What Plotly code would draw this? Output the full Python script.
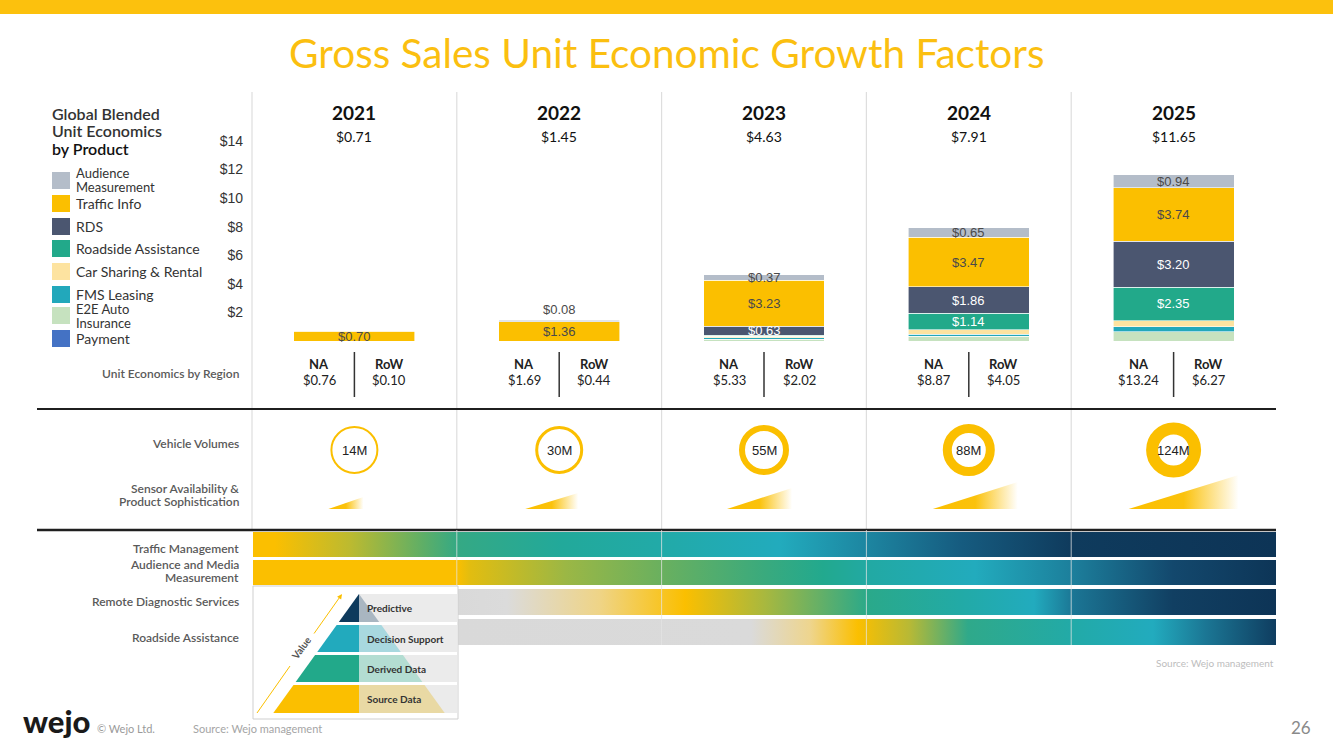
import plotly.graph_objects as go

W, H = 1333, 750

# ---------------- data ----------------
years = ["2021", "2022", "2023", "2024", "2025"]
totals = [0.71, 1.45, 4.63, 7.91, 11.65]

products = ["Audience<br>Measurement", "Traffic Info", "RDS", "Roadside Assistance",
            "Car Sharing & Rental", "FMS Leasing", "E2E Auto<br>Insurance", "Payment"]
audience = [0.01, 0.08, 0.37, 0.65, 0.94]
traffic_info = [0.70, 1.36, 3.23, 3.47, 3.74]
rds = [0.00, 0.00, 0.63, 1.86, 3.20]
roadside = [0.00, 0.00, 0.08, 1.14, 2.35]
car_sharing = [0.00, 0.00, 0.10, 0.30, 0.42]
fms_leasing = [0.00, 0.00, 0.08, 0.17, 0.35]
e2e_insurance = [0.00, 0.00, 0.14, 0.32, 0.65]
payment = [0.00, 0.00, 0.00, 0.00, 0.00]

na_values = [0.76, 1.69, 5.33, 8.87, 13.24]
row_values = [0.10, 0.44, 2.02, 4.05, 6.27]
vehicle_volumes = [14, 30, 55, 88, 124]
y_ticks = [2, 4, 6, 8, 10, 12, 14]

pyramid_levels = ["Predictive", "Decision Support", "Derived Data", "Source Data"]

# ---------------- styles ----------------
FONT = "Lato, 'Open Sans', sans-serif"
NARROW = "'Liberation Sans Narrow', 'Arial Narrow', 'Liberation Sans', sans-serif"
YEL = "#fbbf00"
colors = {
    "audience": "#b4bdc9", "traffic": "#fbbf00", "rds": "#4b5670", "roadside": "#22a98a",
    "car": "#fde3a0", "fms": "#22a8bb", "e2e": "#c6e2bf", "payment": "#4472c4",
}
legend_colors = [colors[k] for k in ["audience", "traffic", "rds", "roadside", "car", "fms", "e2e", "payment"]]

# plot geometry (pixels)
PLOT_L, PLOT_R = 252, 1276
Y0_PX, YTOP_PX = 341, 92
PX_PER_DOLLAR = 14.29
col_w = (PLOT_R - PLOT_L) / len(years)
col_c = [PLOT_L + (i + 0.5) * col_w for i in range(len(years))]
xpos = list(range(len(years)))

fig = go.Figure()

# ---------------- stacked bars ----------------
stack = [
    ("payment", payment), ("e2e", e2e_insurance), ("fms", fms_leasing), ("car", car_sharing),
    ("roadside", roadside), ("rds", rds), ("traffic", traffic_info), ("audience", audience),
]
for key, vals in stack:
    fig.add_trace(go.Bar(
        x=xpos, y=vals, width=0.59,
        marker=dict(color=colors[key], line=dict(color="white", width=0.6)),
        xaxis="x", yaxis="y", showlegend=False, hoverinfo="skip",
    ))

annotations = []
shapes = []

# segment labels
label_cfg = {"traffic": "#4a4a4a", "rds": "white", "roadside": "white", "audience": "#4a4a4a"}
base = [0.0] * len(years)
for key, vals in stack:
    for i, v in enumerate(vals):
        if key in label_cfg:
            show = v >= 0.05 if key == "audience" else v >= 0.5
            if show:
                if v < 0.2:
                    annotations.append(dict(text=f"${v:.2f}", x=xpos[i], y=base[i] + v, xref="x", yref="y",
                                            showarrow=False, yanchor="bottom", yshift=1,
                                            font=dict(family=NARROW, size=13, color=label_cfg[key])))
                else:
                    annotations.append(dict(text=f"${v:.2f}", x=xpos[i], y=base[i] + v / 2, xref="x", yref="y",
                                            showarrow=False, yanchor="middle",
                                            font=dict(family=NARROW, size=13, color=label_cfg[key])))
        base[i] += v


def ann(text, x, y, size, color, xanchor="center", weight="normal", family=FONT, yanchor="middle",
        textangle=0, align="left"):
    annotations.append(dict(text=text, x=x, y=y, xref="x2", yref="y2", showarrow=False,
                            xanchor=xanchor, yanchor=yanchor, textangle=textangle, align=align,
                            font=dict(size=size, color=color, family=family, weight=weight)))


def line(x0, y0, x1, y1, color, width=1):
    shapes.append(dict(type="line", xref="x2", yref="y2", x0=x0, y0=y0, x1=x1, y1=y1,
                       line=dict(color=color, width=width)))


def rect(x0, y0, x1, y1, fill, lc=None, lw=0, layer="above"):
    shapes.append(dict(type="rect", xref="x2", yref="y2", x0=x0, y0=y0, x1=x1, y1=y1, fillcolor=fill,
                       line=dict(color=lc or fill, width=lw), layer=layer))


def poly(pts, fill):
    d = "M " + " L ".join(f"{x},{y}" for x, y in pts) + " Z"
    shapes.append(dict(type="path", xref="x2", yref="y2", path=d, fillcolor=fill, line=dict(width=0)))


def grad_poly(xs, ys, stops, x0, x1):
    cs = [[(p - x0) / (x1 - x0), c] for p, c in stops]
    cs[0][0] = 0.0
    cs[-1][0] = 1.0
    fig.add_trace(go.Scatter(x=xs, y=ys, fill="toself", mode="lines", line=dict(width=0),
                             fillgradient=dict(type="horizontal", colorscale=cs, start=x0, stop=x1),
                             xaxis="x2", yaxis="y2", hoverinfo="skip", showlegend=False))


# ---------------- top band & title ----------------
rect(0, 0, W, 14, "#fcc10d")
ann("Gross Sales Unit Economic Growth Factors", 666, 52, 40.5, "#fbbf10", weight=400)

# ---------------- left legend ----------------
ann("Global Blended", 50, 113, 16, "#333333", xanchor="left", weight=600)
ann("Unit Economics", 50, 130.5, 16, "#333333", xanchor="left", weight=600)
ann("by Product", 50, 148, 16, "#111111", xanchor="left", weight=600)

legend_box_top = [172, 195, 218, 240, 263, 286, 307, 330]
two_line_offsets = {0: (1, 15), 6: (2, 16)}
for k, (name, c, top) in enumerate(zip(products, legend_colors, legend_box_top)):
    rect(52, top, 70, top + 17, c)
    parts = name.split("<br>")
    if len(parts) == 1:
        ann(name, 74, top + 8.5, 14, "#333333", xanchor="left")
    else:
        o1, o2 = two_line_offsets[k]
        ann(parts[0], 74, top + o1, 13, "#333333", xanchor="left")
        ann(parts[1], 74, top + o2, 13, "#333333", xanchor="left")

# ---------------- year headers ----------------
for i, yr in enumerate(years):
    ann(yr, col_c[i], 112, 19, "#111111", weight="bold")
    ann(f"${totals[i]:.2f}", col_c[i], 136, 14, "#111111")

# ---------------- region row ----------------
LBL = dict(size=12, color="#5a5a5a", xanchor="right", weight=600)
ann("Unit Economics by Region", 241, 373, **LBL)
for i in range(len(years)):
    cx = col_c[i]
    line(cx, 352, cx, 397, "#333333", 1.5)
    ann("NA", cx - 35, 364, 13, "#222222", weight="bold")
    ann(f"${na_values[i]:.2f}", cx - 35, 380, 13, "#222222")
    ann("RoW", cx + 35, 364, 13, "#222222", weight="bold")
    ann(f"${row_values[i]:.2f}", cx + 35, 380, 13, "#222222")

# column dividers (upper)
for xb in [PLOT_L + k * col_w for k in range(len(years))]:
    line(xb, 92, xb, 530, "#dedede", 1.2)

line(37, 409, PLOT_R, 409, "#1f1f1f", 2)

# ---------------- vehicle volumes (rings) ----------------
ann("Vehicle Volumes", 241, 443, **LBL)
ring_width = [2, 3, 6, 9, 12]
ring_outer = [24, 24, 25, 26, 27.5]
for i, v in enumerate(vehicle_volumes):
    r = ring_outer[i] - ring_width[i] / 2
    shapes.append(dict(type="circle", xref="x2", yref="y2", x0=col_c[i] - r, x1=col_c[i] + r,
                       y0=450 - r, y1=450 + r, line=dict(color=YEL, width=ring_width[i]),
                       fillcolor="rgba(0,0,0,0)"))
    ann(f"{v}M", col_c[i], 450, 13, "#222222", family=NARROW)

# ---------------- sensor triangles ----------------
ann("Sensor Availability &", 241, 488, **LBL)
ann("Product Sophistication", 241, 501, **LBL)
tri_left = [26, 34, 37, 36, 45]
tri_right = [9, 19, 28, 49, 65]
tri_h = [12, 16, 21, 27, 34]
TRI_BASE = 509
for i in range(len(years)):
    x0 = col_c[i] - tri_left[i]
    x1 = col_c[i] + tri_right[i]
    grad_poly([x0, x1, x1, x0], [TRI_BASE, TRI_BASE, TRI_BASE - tri_h[i], TRI_BASE],
              [(x0, "#fbbf00"), (x0 + 0.5 * (x1 - x0), "#fbc20c"), (x1, "#ffffff")], x0, x1)

line(37, 530, PLOT_R, 530, "#1f1f1f", 2.5)

# ---------------- gradient bands ----------------
band_rows = [(532, 557), (560, 585), (589, 615), (619, 645)]
band_x0 = [253, 253, 457, 457]
band_stops = [
    [(253, "#fbbf00"), (275, "#fbbf00"), (350, "#bcba30"), (420, "#62af64"), (457, "#35a984"),
     (560, "#22a99a"), (662, "#22aaa8"), (780, "#22abbd"), (866, "#1d86a1"), (960, "#165c80"),
     (1071, "#0f3b5d"), (1276, "#0d3456")],
    [(253, "#fbbf00"), (457, "#fbbf00"), (470, "#e2bd10"), (566, "#9bb745"), (663, "#69b05f"),
     (764, "#3aaa7d"), (823, "#22a98e"), (868, "#22a9a3"), (975, "#22abbd"), (1074, "#1c7e9b"),
     (1173, "#13486d"), (1276, "#0d3557")],
    [(457, "#d9d9d9"), (507, "#dbdbdb"), (600, "#efd486"), (685, "#fbbf00"), (764, "#a9b83e"),
     (868, "#2aa98a"), (960, "#22aaa6"), (1034, "#22abbe"), (1074, "#1b7594"), (1173, "#113f62"),
     (1276, "#0d3456")],
    [(457, "#d9d9d9"), (751, "#dadada"), (810, "#eed58e"), (858, "#fbbf00"), (909, "#b8b935"),
     (968, "#2fa98a"), (1074, "#22aaa8"), (1153, "#22abbe"), (1206, "#1b7694"), (1276, "#0f3d60")],
]
for (y0, y1), x0, stops in zip(band_rows, band_x0, band_stops):
    grad_poly([x0, PLOT_R, PLOT_R, x0, x0], [y0, y0, y1, y1, y0], stops, x0, PLOT_R)

ann("Traffic Management", 241, 548, **LBL)
ann("Audience and Media", 241, 564, **LBL)
ann("Measurement", 241, 577, **LBL)
ann("Remote Diagnostic Services", 241, 601, **LBL)
ann("Roadside Assistance", 241, 637, **LBL)

for xb in [PLOT_L + k * col_w for k in range(1, len(years))]:
    line(xb, 530, xb, 645, "rgba(230,230,230,0.75)", 1)

# ---------------- pyramid inset ----------------
rect(253, 586, 458, 719, "white", "#cfcfcf", 1)
PYR_C, APEX, SLOPE = 359, 594, 0.72
pyr_rows = [(594, 622), (625, 652), (655, 682), (685, 713)]
pyr_left = ["#0e3a5c", "#22aabd", "#22a98a", "#fbbf00"]
pyr_right = ["#a9b6c1", "#a8d8df", "#b3ddd2", "#e9d9a4"]
for (y0, y1), cl, cr, lab in zip(pyr_rows, pyr_left, pyr_right, pyramid_levels):
    rect(PYR_C, y0, 457, y1, "#ebebeb")
    xl0 = PYR_C - (y0 - APEX) * SLOPE
    xl1 = PYR_C - (y1 - APEX) * SLOPE
    xr0 = PYR_C + (y0 - APEX) * SLOPE
    xr1 = PYR_C + (y1 - APEX) * SLOPE
    poly([(xl0, y0), (PYR_C, y0), (PYR_C, y1), (xl1, y1)], cl)
    poly([(PYR_C, y0), (xr0, y0), (xr1, y1), (PYR_C, y1)], cr)
    ann(lab, 365, (y0 + y1) / 2, 10, "#333333", xanchor="left", weight="bold")

# value arrow
line(257, 713, 290, 666, YEL, 1)
annotations.append(dict(x=342, y=594, ax=313, ay=635, xref="x2", yref="y2", axref="x2", ayref="y2",
                        showarrow=True, arrowhead=2, arrowsize=1, arrowwidth=1, arrowcolor=YEL, text=""))
ann("Value", 301, 648, 10, "#555555", weight="bold", textangle=-54)

# ---------------- footer ----------------
ann("Source: Wejo management", 1276, 663, 10, "#bdbdbd", xanchor="right")
ann("wejo", 21, 721, 31, "#1a1a1a", xanchor="left", weight=900)
ann("© Wejo Ltd.", 95, 728, 11, "#9a9a9a", xanchor="left")
ann("Source: Wejo management", 191, 728, 11, "#a5a5a5", xanchor="left")
ann("26", 1313, 727, 17, "#8a8a8a", xanchor="right")

# ---------------- layout ----------------
fig.update_layout(
    width=W, height=H, autosize=False,
    margin=dict(l=0, r=0, t=0, b=0, pad=0),
    paper_bgcolor="white", plot_bgcolor="rgba(0,0,0,0)",
    barmode="stack",
    showlegend=False,
    font=dict(family=FONT),
    xaxis=dict(domain=[PLOT_L / W, PLOT_R / W], anchor="y", type="linear", range=[-0.5, len(years) - 0.5],
               showgrid=False, showticklabels=False, zeroline=False, showline=False, ticks="",
               fixedrange=True),
    yaxis=dict(domain=[1 - Y0_PX / H, 1 - YTOP_PX / H], anchor="x", type="linear",
               range=[0, (Y0_PX - YTOP_PX) / PX_PER_DOLLAR],
               tickvals=y_ticks, ticktext=[f"${v}" for v in y_ticks], showgrid=False, zeroline=False,
               showline=False, ticks="", ticklabelstandoff=8, fixedrange=True,
               tickfont=dict(family=NARROW, size=14, color="#333333")),
    xaxis2=dict(domain=[0, 1], range=[0, W], anchor="y2", visible=False, fixedrange=True),
    yaxis2=dict(domain=[0, 1], range=[H, 0], anchor="x2", visible=False, fixedrange=True),
    shapes=shapes,
    annotations=annotations,
    hovermode=False,
)

fig.write_html("out.html", config={"displayModeBar": False},
               post_script="document.body.style.margin='0';document.body.style.overflow='hidden';")
